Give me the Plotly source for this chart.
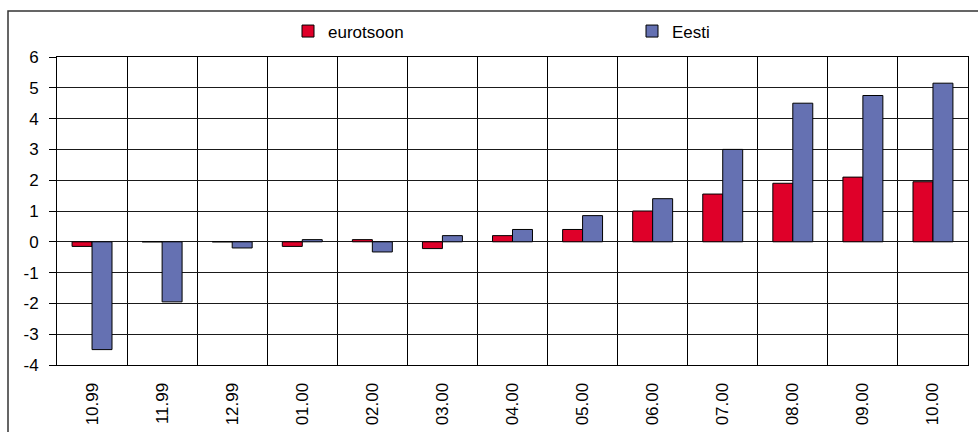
import plotly.graph_objects as go

categories = ["10.99", "11.99", "12.99", "01.00", "02.00", "03.00", "04.00",
              "05.00", "06.00", "07.00", "08.00", "09.00", "10.00"]
eurotsoon = [-0.15, 0.0, 0.0, -0.15, 0.07, -0.22, 0.2, 0.4, 1.0, 1.55, 1.9, 2.1, 1.95]
eesti = [-3.5, -1.95, -0.2, 0.07, -0.33, 0.2, 0.4, 0.85, 1.4, 3.0, 4.5, 4.75, 5.15]
y_ticks = [-4, -3, -2, -1, 0, 1, 2, 3, 4, 5, 6]
y_tick_labels = ["-4", "-3", "-2", "-1", "0", "1", "2", "3", "4", "5", "6"]

FONT = "Liberation Sans, Arial, sans-serif"
FS = 17

fig = go.Figure()
fig.add_trace(go.Bar(x=categories, y=eurotsoon, name="eurotsoon", legend="legend",
                     marker=dict(color="#DF0029", line=dict(color="#000000", width=1))))
fig.add_trace(go.Bar(x=categories, y=eesti, name="Eesti", legend="legend2",
                     marker=dict(color="#6571B2", line=dict(color="#000000", width=1))))

W, H = 978, 432
ml, mr, mt, mb = 57, 10, 57, 67
pw, ph = W - ml - mr, H - mt - mb

def px_x(p):
    return (p - ml) / pw

def px_y(p):
    return (H - mb - p) / ph

leg_common = dict(orientation="h", xanchor="left", yanchor="middle",
                  y=px_y(31.5), font=dict(family=FONT, size=FS, color="#000000"),
                  bgcolor="rgba(0,0,0,0)", itemclick=False, itemdoubleclick=False)

fig.update_layout(
    width=W, height=H,
    margin=dict(l=ml, r=mr, t=mt, b=mb, pad=0, autoexpand=False),
    paper_bgcolor="white", plot_bgcolor="white",
    barmode="group", bargap=0.43, bargroupgap=0,
    font=dict(family=FONT, size=FS, color="#000000"),
    showlegend=True,
    legend=dict(x=px_x(288), **leg_common),
    legend2=dict(x=px_x(632), **leg_common),
    xaxis=dict(type="category", tickson="boundaries", showgrid=True,
               gridcolor="#000000", gridwidth=1, tickangle=-90,
               ticks="", showline=True, linecolor="#000000", linewidth=1,
               mirror=True, tickfont=dict(size=FS), ticklabelstandoff=10,
               automargin=False),
    yaxis=dict(range=[-4, 6], tickvals=y_ticks, ticktext=y_tick_labels,
               showgrid=True, gridcolor="#1a1a1a", gridwidth=1, zeroline=True,
               zerolinecolor="#1a1a1a", zerolinewidth=1,
               ticks="outside", ticklen=7, tickcolor="#000000",
               showline=True, linecolor="#000000", linewidth=1, mirror=True,
               tickfont=dict(size=FS), ticklabelstandoff=7, automargin=False),
    shapes=[dict(type="rect", xref="paper", yref="paper",
                 x0=px_x(8), x1=px_x(1200), y0=px_y(600), y1=px_y(11),
                 line=dict(color="#333333", width=1.5), fillcolor="rgba(0,0,0,0)",
                 layer="below")],
)

fig.write_html("out.html")
